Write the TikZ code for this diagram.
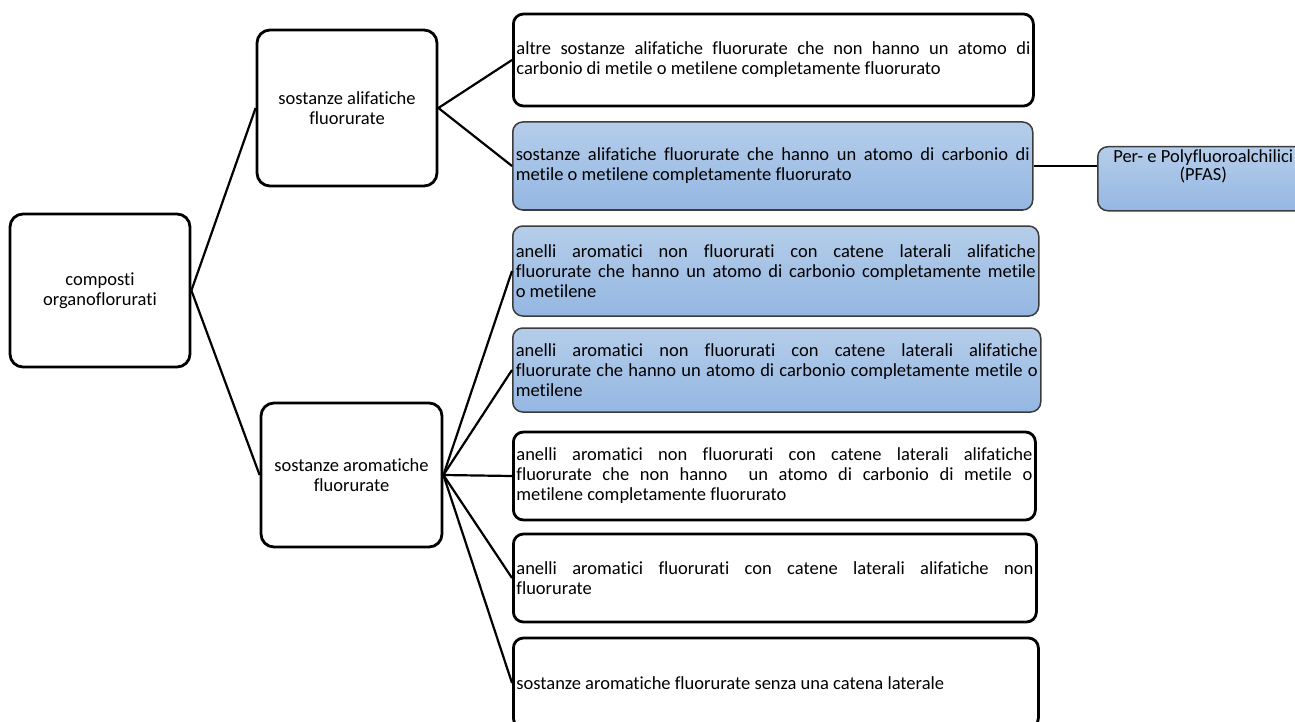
\documentclass[tikz,border=0pt]{standalone}
\usepackage{fontspec}
\setmainfont{Carlito}[Ligatures={NoCommon}]
\usetikzlibrary{positioning}
\definecolor{bluetop}{RGB}{181,205,234}
\definecolor{bluebot}{RGB}{148,183,226}
\definecolor{blueline}{RGB}{60,60,60}
\tikzset{
  catbox/.style={draw, line width=2.8pt, rounded corners=13pt, align=center,
    minimum width=180pt, inner sep=2pt},
  leafbox/.style={draw, line width=2.8pt, rounded corners=10pt, align=justify,
    anchor=west, inner xsep=3pt, inner ysep=2pt},
  bluebox/.style={leafbox, draw=blueline, line width=1.5pt,
    top color=bluetop, bottom color=bluebot}
}
\begin{document}
\begin{tikzpicture}[x=1pt, y=-1pt, every node/.style={font=\fontsize{18.5}{20}\selectfont}]
  \useasboundingbox (0,0) rectangle (1295,722);
  \node[catbox, minimum height=153pt] (root) at (100,290.5) {composti\\organoflorurati};
  \node[catbox, minimum height=156pt] (ali) at (347,108) {sostanze alifatiche\\fluorurate};
  \node[catbox, minimum width=181pt, minimum height=144pt] (aro) at (351.5,475) {sostanze aromatiche\\fluorurate};

  \node[leafbox, text width=514pt, minimum height=92pt] (a1) at (512,60)
    {altre sostanze alifatiche fluorurate che non hanno un atomo di\linebreak carbonio di metile o metilene completamente fluorurato};
  \node[bluebox, text width=514pt, minimum height=88pt] (a2) at (512,166)
    {sostanze alifatiche fluorurate che hanno un atomo di carbonio di\linebreak metile o metilene completamente fluorurato};
  \node[bluebox, anchor=north west, inner sep=3pt] (pfas) at (1097,146)
    {\parbox[t][58pt][t]{205pt}{\centering\fontsize{18.5}{18}\selectfont Per- e Polyfluoroalchilici\\(PFAS)}};

  \node[bluebox, text width=520pt, minimum height=90pt] (b1) at (512,271)
    {anelli aromatici non fluorurati con catene laterali alifatiche\linebreak fluorurate che hanno un atomo di carbonio completamente metile\linebreak o metilene};
  \node[bluebox, text width=522pt, minimum height=84pt] (b2) at (512,370)
    {anelli aromatici non fluorurati con catene laterali alifatiche\linebreak fluorurate che hanno un atomo di carbonio completamente metile o\linebreak metilene};
  \node[leafbox, text width=516pt, minimum height=88pt] (b3) at (512,476)
    {anelli aromatici non fluorurati con catene laterali alifatiche\linebreak fluorurate che non hanno \ un atomo di carbonio di metile o\linebreak metilene completamente fluorurato};
  \node[leafbox, text width=517pt, minimum height=88pt] (b4) at (512,578)
    {anelli aromatici fluorurati con catene laterali alifatiche non\linebreak fluorurate};
  \node[leafbox, text width=519pt, minimum height=90pt] (b5) at (512,683)
    {sostanze aromatiche fluorurate senza una catena laterale};

  \begin{scope}[line width=2.2pt]
    \draw (root.east) to (ali.west);
    \draw (root.east) to (aro.west);
    \draw (ali.east) to (a1.west);
    \draw (ali.east) to (a2.west);
    \draw (a2.east) to (a2.east -| pfas.west);
    \draw (aro.east) to (b1.west);
    \draw (aro.east) to (b2.west);
    \draw (aro.east) to (b3.west);
    \draw (aro.east) to (b4.west);
    \draw (aro.east) to (b5.west);
  \end{scope}
\end{tikzpicture}
\end{document}
